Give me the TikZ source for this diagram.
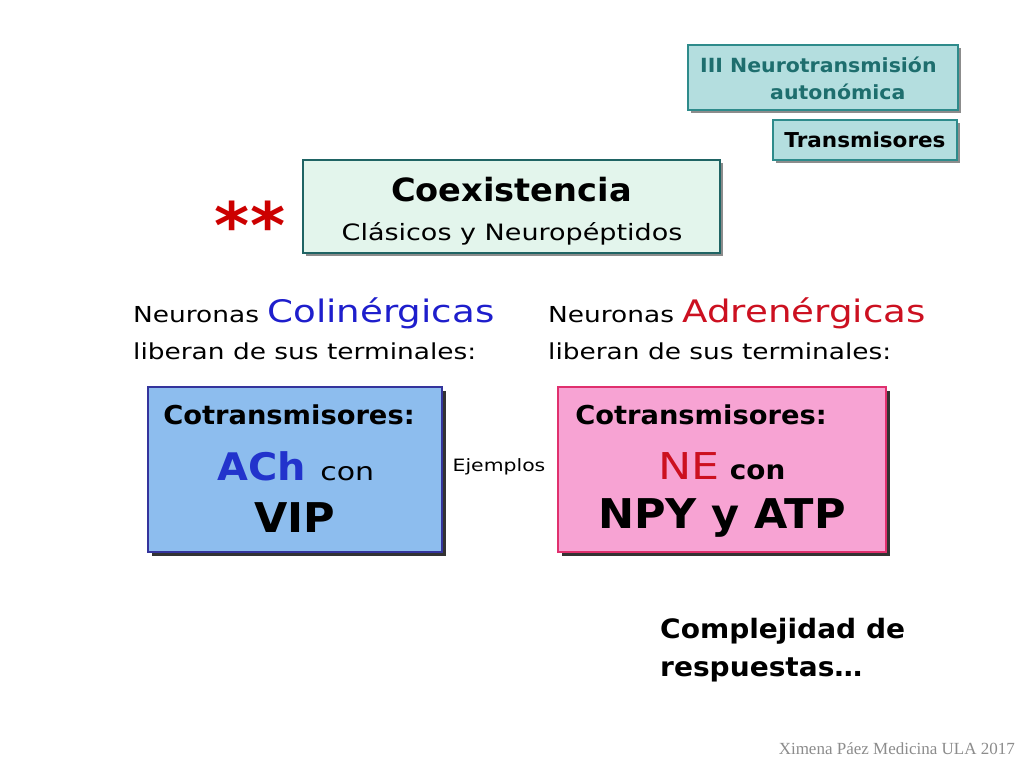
\documentclass[tikz,border=0pt]{standalone}
\usepackage{fontspec}
\setmainfont{DejaVu Sans}[FakeStretch=1.2, BoldFeatures={FakeStretch=1.05}]
\newfontfamily\footfont{Liberation Serif}
\usetikzlibrary{shadows}
\definecolor{tealfill}{HTML}{B4DEDF}
\definecolor{tealdraw}{HTML}{2E8B8B}
\definecolor{tealtext}{HTML}{1E6E6E}
\definecolor{mintfill}{HTML}{E3F5EC}
\definecolor{mintdraw}{HTML}{1F6464}
\definecolor{bluefill}{HTML}{8DBDEE}
\definecolor{bluedraw}{HTML}{34349C}
\definecolor{pinkfill}{HTML}{F7A3D3}
\definecolor{pinkdraw}{HTML}{E0306E}
\definecolor{colblue}{HTML}{1E1ECC}
\definecolor{achblue}{HTML}{2233CC}
\definecolor{adrred}{HTML}{CC1020}
\definecolor{footgray}{HTML}{8C8C8C}
\newcommand{\fsz}[1]{\fontsize{#1}{#1}\selectfont}
\tikzset{
  box/.style={draw, line width=2pt, inner sep=0pt},
  lightshadow/.style={drop shadow={shadow xshift=3pt, shadow yshift=-3pt, fill=black!45, opacity=1}},
  darkshadow/.style={drop shadow={shadow xshift=4pt, shadow yshift=-4pt, fill=black!80, opacity=1}},
  txt/.style={inner sep=0pt, anchor=base west},
  ctxt/.style={inner sep=0pt, anchor=base},
}
\begin{document}
\begin{tikzpicture}[x=1pt,y=-1pt]
\useasboundingbox[fill=white] (0,0) rectangle (1024,768);
% top right boxes
\node[box, lightshadow, fill=tealfill, draw=tealdraw, minimum width=270pt, minimum height=65pt] (neuro) at (823,77.5) {};
\node[txt, text=tealtext, font=\fsz{19.5}\bfseries] (neuro1) at (700,72) {III Neurotransmisión};
\node[txt, text=tealtext, font=\fsz{19.5}\bfseries] (neuro2) at (770,99) {autonómica};
\node[box, lightshadow, fill=tealfill, draw=tealdraw, minimum width=184pt, minimum height=40pt, font=\fsz{20.5}\bfseries] (trans) at (865,140) {Transmisores};
% coexistencia
\node[box, lightshadow, fill=mintfill, draw=mintdraw, minimum width=417pt, minimum height=93pt] (coex) at (511.5,206.5) {};
\node[ctxt, font=\fsz{32}\bfseries] (coex1) at (511.5,201) {Coexistencia};
\node[ctxt, font=\fsz{22.5}] (coex2) at (512,240) {Clásicos y Neuropéptidos};
\node[inner sep=0pt, text=red!80!black, font=\fsz{64}\bfseries] (stars) at (250,225) {**};
% neuron labels
\node[txt] (ncol) at (133,322) {\fsz{22}Neuronas {\fsz{31}\color{colblue}Colinérgicas}};
\node[txt] (lcol) at (133,359) {\fsz{22}liberan de sus terminales:};
\node[txt] (nadr) at (548,322) {\fsz{22}Neuronas {\fsz{31}\color{adrred}Adrenérgicas}};
\node[txt] (ladr) at (548,359) {\fsz{22}liberan de sus terminales:};
% cotransmisor boxes
\node[box, darkshadow, fill=bluefill, draw=bluedraw, minimum width=294pt, minimum height=165pt] (blue) at (295,469.5) {};
\node[inner sep=0pt, font=\fsz{26}\bfseries] (bcot) at (289,415) {Cotransmisores:};
\node[inner sep=0pt] (bach) at (296,466) {{\fsz{38}\bfseries\color{achblue}ACh}\hspace{14pt}{\fsz{25}con}};
\node[inner sep=0pt, font=\fsz{41}\bfseries] (bvip) at (295,518) {VIP};
\node[box, darkshadow, fill=pinkfill, draw=pinkdraw, minimum width=328pt, minimum height=165pt] (pink) at (722,469.5) {};
\node[inner sep=0pt, font=\fsz{26}\bfseries] (pcot) at (701,415) {Cotransmisores:};
\node[inner sep=0pt] (pne) at (722,466) {{\fsz{37}\color{adrred}NE}\hspace{10pt}{\fsz{26.5}\bfseries con}};
\node[inner sep=0pt, font=\fsz{41}\bfseries] (pnpy) at (722,518) {NPY y ATP};
\node[inner sep=0pt, font=\fsz{17}] (ejem) at (499,467) {Ejemplos};
% complejidad
\node[txt, font=\fsz{26.7}\bfseries] (comp1) at (660,638) {Complejidad de};
\node[txt, font=\fsz{26.7}\bfseries] (comp2) at (660,676) {respuestas…};
\node[inner sep=0pt, anchor=base east, text=footgray, font=\footfont\fsz{17}] (foot) at (1015,754) {Ximena Páez Medicina ULA 2017};
\end{tikzpicture}
\end{document}
